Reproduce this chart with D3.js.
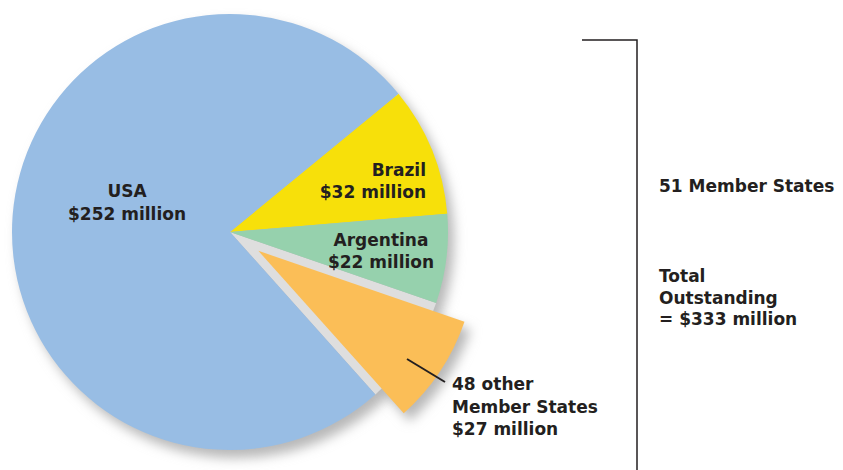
<!DOCTYPE html>
<html>
<head>
<meta charset="utf-8">
<script src="https://cdn.jsdelivr.net/npm/d3@7"></script>
<style>
  body { margin: 0; background: #fff; }
  text { font-family: "DejaVu Sans", sans-serif; font-weight: bold; fill: #231f20; font-size: 17px; }
</style>
</head>
<body>
<script>
var countries = ["Brazil", "Argentina", "48 other Member States", "USA"];
var amounts = [32, 22, 27, 252];
var colours = ["#f7e00a", "#96d1ad", "#fbbe57", "#98bde4"];
var labelLines = [
  ["Brazil", "$32 million"],
  ["Argentina", "$22 million"],
  ["48 other", "Member States", "$27 million"],
  ["USA", "$252 million"]
];
var sideLines = ["51 Member States"];
var totalLines = ["Total", "Outstanding", "= $333 million"];

var width = 843, height = 470;
var cx = 230, cy = 232, r = 218;
var explode = 34;
var start = 50.6 * Math.PI / 180;

var svg = d3.select("body").append("svg")
  .attr("width", width)
  .attr("height", height);

var defs = svg.append("defs");
defs.append("filter").attr("id", "blur")
  .attr("x", "-20%").attr("y", "-20%").attr("width", "140%").attr("height", "140%")
  .append("feGaussianBlur").attr("stdDeviation", 6);

var pie = d3.pie().sort(null).value(function(d) { return d; })
  .startAngle(start).endAngle(start + 2 * Math.PI);
var arcs = pie(amounts);
var arc = d3.arc().innerRadius(0).outerRadius(r);

function shift(d, i) {
  if (i !== 2) return [0, 0];
  var a = (d.startAngle + d.endAngle) / 2;
  return [Math.sin(a) * explode, -Math.cos(a) * explode];
}

var g = svg.append("g").attr("transform", "translate(" + cx + "," + cy + ")");

// shadow under the whole pie
g.append("circle")
  .attr("cx", 6).attr("cy", 8).attr("r", r)
  .attr("fill", "#b8b8b8")
  .attr("filter", "url(#blur)");

// grey shadow of the pulled-out slice
g.append("path")
  .attr("d", arc(arcs[2]))
  .attr("transform", function() { var s = shift(arcs[2], 2); return "translate(" + (s[0] + 6) + "," + (s[1] + 8) + ")"; })
  .attr("fill", "#b8b8b8")
  .attr("filter", "url(#blur)");

// light grey base seen in the gap
g.append("path")
  .attr("d", arc(arcs[2]))
  .attr("fill", "#dedede");

g.selectAll("path.slice")
  .data(arcs)
  .enter()
  .append("path")
  .attr("class", "slice")
  .attr("d", arc)
  .attr("transform", function(d, i) { var s = shift(d, i); return "translate(" + s[0] + "," + s[1] + ")"; })
  .attr("fill", function(d, i) { return colours[i]; });

// labels
function block(x, y, lines, anchor, step) {
  var t = svg.append("text").attr("x", x).attr("y", y).attr("text-anchor", anchor);
  lines.forEach(function(l, j) {
    t.append("tspan").attr("x", x).attr("dy", j === 0 ? 0 : step).text(l);
  });
}
block(127, 197, labelLines[3], "middle", 23);
block(426, 176, labelLines[0], "end", 22);
block(381, 246, labelLines[1], "middle", 22);
block(452, 390, labelLines[2], "start", 22.5);

// leader for the small members
svg.append("line")
  .attr("x1", 407).attr("y1", 359).attr("x2", 445).attr("y2", 382)
  .attr("stroke", "#231f20").attr("stroke-width", 2);

// bracket
svg.append("path")
  .attr("d", "M582,40H637V470")
  .attr("fill", "none").attr("stroke", "#231f20").attr("stroke-width", 1.5);

block(659, 192, sideLines, "start", 0);
block(659, 282, totalLines, "start", 21.5);
</script>
</body>
</html>
